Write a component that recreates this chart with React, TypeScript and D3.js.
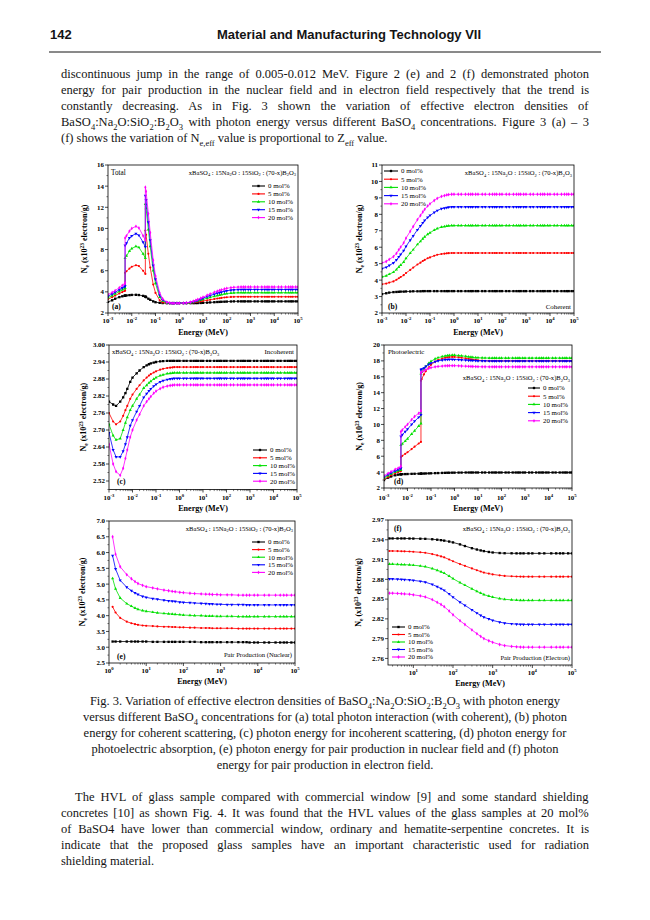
import React from 'react';
import * as d3 from 'd3';

const SERIF = '"Liberation Serif", "Times New Roman", Times, serif';
const SANS = '"Liberation Sans", Arial, Helvetica, sans-serif';
const INK = '#141414';

type Rich = [string, number][];

// ---------------- series meta ----------------
const molLabels = ['0 mol%', '5 mol%', '10 mol%', '15 mol%', '20 mol%'];
const molColors = ['#000000', '#ff0000', '#00e000', '#0000ff', '#ff00ff'];

// ---------------- energy grids (MeV) ----------------
const energyEdge = [
  0.001, 0.0015, 0.002, 0.003, 0.004, 0.005, 0.00525, 0.00525, 0.006, 0.008,
  0.01, 0.015, 0.02, 0.03, 0.0374, 0.0374, 0.04, 0.05, 0.06, 0.08,
  0.1, 0.15, 0.2, 0.3, 0.4, 0.5, 0.6, 0.8,
  1, 1.5, 2, 3, 4, 5, 6, 8,
  10, 15, 20, 30, 40, 50, 60, 80,
  100, 150, 200, 300, 400, 500, 600, 800,
  1000, 1500, 2000, 3000, 4000, 5000, 6000, 8000,
  10000, 15000, 20000, 30000, 40000, 50000, 60000, 80000,
  100000,
];
const energyFine = [
  0.001, 0.0015, 0.002, 0.003, 0.004, 0.005, 0.006, 0.008,
  0.01, 0.015, 0.02, 0.03, 0.04, 0.05, 0.06, 0.08,
  0.1, 0.15, 0.2, 0.3, 0.4, 0.5, 0.6, 0.8,
  1, 1.5, 2, 3, 4, 5, 6, 8,
  10, 15, 20, 30, 40, 50, 60, 80,
  100, 150, 200, 300, 400, 500, 600, 800,
  1000, 1500, 2000, 3000, 4000, 5000, 6000, 8000,
  10000, 15000, 20000, 30000, 40000, 50000, 60000, 80000,
  100000,
];
const energyPairN = [
  1.25, 1.5, 2, 3, 4, 5, 6, 8,
  10, 15, 20, 30, 40, 50, 60, 80,
  100, 150, 200, 300, 400, 500, 600, 800,
  1000, 1500, 2000, 3000, 4000, 5000, 6000, 8000,
  10000, 15000, 20000, 30000, 40000, 50000, 60000, 80000,
  100000,
];
const energyPairE = [
  2.5, 3, 4, 5, 6, 8,
  10, 15, 20, 30, 40, 50, 60, 80,
  100, 150, 200, 300, 400, 500, 600, 800,
  1000, 1500, 2000, 3000, 4000, 5000, 6000, 8000,
  10000, 15000, 20000, 30000, 40000, 50000, 60000, 80000,
  100000,
];

// ---------------- (a) Total ----------------
const totalMol0 = [
  3.05, 3.2, 3.35, 3.5, 3.58, 3.63, 3.64, 3.64, 3.66, 3.69,
  3.71, 3.72, 3.7, 3.62, 3.55, 3.55, 3.5, 3.35, 3.25, 3.1,
  3.02, 2.96, 2.94, 2.93, 2.93, 2.93, 2.93, 2.93,
  2.93, 2.93, 2.93, 2.93, 2.93, 2.94, 2.94, 2.95,
  2.96, 2.98, 3.0, 3.02, 3.04, 3.05, 3.06, 3.07,
  3.08, 3.09, 3.1, 3.1, 3.1, 3.1, 3.1, 3.1,
  3.1, 3.1, 3.1, 3.1, 3.1, 3.1, 3.1, 3.1,
  3.1, 3.1, 3.1, 3.1, 3.1, 3.1, 3.1, 3.1,
  3.1,
];
const totalMol5 = [
  3.3, 3.5, 3.65, 3.85, 3.98, 4.08, 4.12, 5.8, 5.95, 6.2,
  6.38, 6.52, 6.45, 6.0, 5.7, 9.8, 9.4, 7.6, 6.3, 4.7,
  3.9, 3.2, 3.0, 2.94, 2.93, 2.93, 2.93, 2.93,
  2.93, 2.93, 2.94, 2.97, 3.0, 3.03, 3.06, 3.1,
  3.14, 3.2, 3.25, 3.32, 3.37, 3.4, 3.43, 3.47,
  3.49, 3.52, 3.53, 3.54, 3.54, 3.54, 3.54, 3.54,
  3.54, 3.54, 3.54, 3.54, 3.54, 3.54, 3.54, 3.54,
  3.54, 3.54, 3.54, 3.54, 3.54, 3.54, 3.54, 3.54,
  3.54,
];
const totalMol10 = [
  3.45, 3.65, 3.82, 4.05, 4.2, 4.3, 4.35, 7.2, 7.4, 7.85,
  8.1, 8.3, 8.2, 7.6, 7.2, 12.3, 11.9, 9.9, 8.3, 6.0,
  4.8, 3.5, 3.15, 2.97, 2.94, 2.93, 2.93, 2.93,
  2.93, 2.93, 2.95, 2.99, 3.05, 3.1, 3.14, 3.22,
  3.28, 3.4, 3.48, 3.58, 3.65, 3.7, 3.74, 3.8,
  3.84, 3.88, 3.9, 3.92, 3.92, 3.92, 3.92, 3.92,
  3.92, 3.92, 3.92, 3.92, 3.92, 3.92, 3.92, 3.92,
  3.92, 3.92, 3.92, 3.92, 3.92, 3.92, 3.92, 3.92,
  3.92,
];
const totalMol15 = [
  3.6, 3.8, 3.97, 4.2, 4.38, 4.5, 4.55, 8.4, 8.6, 9.1,
  9.3, 9.5, 9.35, 8.7, 8.25, 13.1, 12.7, 10.6, 8.9, 6.5,
  5.2, 3.7, 3.25, 3.0, 2.95, 2.93, 2.93, 2.93,
  2.93, 2.94, 2.96, 3.01, 3.08, 3.15, 3.21, 3.31,
  3.4, 3.55, 3.65, 3.78, 3.87, 3.93, 3.98, 4.05,
  4.1, 4.16, 4.19, 4.21, 4.22, 4.22, 4.22, 4.22,
  4.22, 4.22, 4.22, 4.22, 4.22, 4.22, 4.22, 4.22,
  4.22, 4.22, 4.22, 4.22, 4.22, 4.22, 4.22, 4.22,
  4.22,
];
const totalMol20 = [
  3.75, 3.95, 4.12, 4.4, 4.6, 4.75, 4.85, 9.1, 9.3, 9.75,
  10.0, 10.2, 10.05, 9.3, 8.9, 13.9, 13.5, 11.4, 9.6, 7.0,
  5.5, 3.9, 3.35, 3.02, 2.96, 2.93, 2.93, 2.93,
  2.93, 2.94, 2.97, 3.03, 3.12, 3.2, 3.28, 3.4,
  3.5, 3.68, 3.8, 3.96, 4.06, 4.13, 4.19, 4.27,
  4.33, 4.4, 4.43, 4.45, 4.46, 4.46, 4.46, 4.46,
  4.46, 4.46, 4.46, 4.46, 4.46, 4.46, 4.46, 4.46,
  4.46, 4.46, 4.46, 4.46, 4.46, 4.46, 4.46, 4.46,
  4.46,
];
const totalTicks = [2, 4, 6, 8, 10, 12, 14, 16];

// ---------------- (b) Coherent ----------------
const cohMol0 = [
  3.15, 3.2, 3.24, 3.27, 3.28, 3.29, 3.3, 3.3,
  3.31, 3.31, 3.32, 3.32, 3.32, 3.33, 3.33, 3.33,
  3.33, 3.33, 3.33, 3.33, 3.33, 3.33, 3.33, 3.33,
  3.33, 3.33, 3.33, 3.33, 3.33, 3.33, 3.33, 3.33,
  3.33, 3.33, 3.33, 3.33, 3.33, 3.33, 3.33, 3.33,
  3.33, 3.33, 3.33, 3.33, 3.33, 3.33, 3.33, 3.33,
  3.33, 3.33, 3.33, 3.33, 3.33, 3.33, 3.33, 3.33,
  3.33, 3.33, 3.33, 3.33, 3.33, 3.33, 3.33, 3.33,
  3.33,
];
const cohMol5 = [
  3.75, 3.79, 3.85, 3.92, 4.02, 4.11, 4.19, 4.3,
  4.43, 4.62, 4.76, 4.95, 5.06, 5.16, 5.23, 5.33,
  5.38, 5.48, 5.54, 5.59, 5.61, 5.63, 5.64, 5.65,
  5.65, 5.65, 5.65, 5.65, 5.65, 5.65, 5.65, 5.65,
  5.65, 5.65, 5.65, 5.65, 5.65, 5.65, 5.65, 5.65,
  5.65, 5.65, 5.65, 5.65, 5.65, 5.65, 5.65, 5.65,
  5.65, 5.65, 5.65, 5.65, 5.65, 5.65, 5.65, 5.65,
  5.65, 5.65, 5.65, 5.65, 5.65, 5.65, 5.65, 5.65,
  5.65,
];
const cohMol10 = [
  4.2, 4.26, 4.36, 4.48, 4.64, 4.79, 4.92, 5.1,
  5.32, 5.64, 5.85, 6.17, 6.35, 6.51, 6.63, 6.79,
  6.88, 7.04, 7.13, 7.23, 7.26, 7.29, 7.3, 7.32,
  7.32, 7.32, 7.32, 7.32, 7.32, 7.32, 7.32, 7.32,
  7.32, 7.32, 7.32, 7.32, 7.32, 7.32, 7.32, 7.32,
  7.32, 7.32, 7.32, 7.32, 7.32, 7.32, 7.32, 7.32,
  7.32, 7.32, 7.32, 7.32, 7.32, 7.32, 7.32, 7.32,
  7.32, 7.32, 7.32, 7.32, 7.32, 7.32, 7.32, 7.32,
  7.32,
];
const cohMol15 = [
  4.7, 4.78, 4.89, 5.04, 5.23, 5.41, 5.56, 5.79,
  6.05, 6.43, 6.69, 7.06, 7.29, 7.48, 7.63, 7.81,
  7.93, 8.11, 8.23, 8.34, 8.38, 8.41, 8.43, 8.45,
  8.45, 8.45, 8.45, 8.45, 8.45, 8.45, 8.45, 8.45,
  8.45, 8.45, 8.45, 8.45, 8.45, 8.45, 8.45, 8.45,
  8.45, 8.45, 8.45, 8.45, 8.45, 8.45, 8.45, 8.45,
  8.45, 8.45, 8.45, 8.45, 8.45, 8.45, 8.45, 8.45,
  8.45, 8.45, 8.45, 8.45, 8.45, 8.45, 8.45, 8.45,
  8.45,
];
const cohMol20 = [
  5.05, 5.13, 5.26, 5.43, 5.63, 5.84, 6.01, 6.26,
  6.55, 6.97, 7.26, 7.68, 7.93, 8.14, 8.3, 8.51,
  8.64, 8.84, 8.97, 9.09, 9.14, 9.18, 9.2, 9.22,
  9.22, 9.22, 9.22, 9.22, 9.22, 9.22, 9.22, 9.22,
  9.22, 9.22, 9.22, 9.22, 9.22, 9.22, 9.22, 9.22,
  9.22, 9.22, 9.22, 9.22, 9.22, 9.22, 9.22, 9.22,
  9.22, 9.22, 9.22, 9.22, 9.22, 9.22, 9.22, 9.22,
  9.22, 9.22, 9.22, 9.22, 9.22, 9.22, 9.22, 9.22,
  9.22,
];
const cohTicks = [2, 3, 4, 5, 6, 7, 8, 9, 10, 11];

// ---------------- (c) Incoherent ----------------
const incMol0 = [
  2.8, 2.79, 2.785, 2.8, 2.815, 2.83, 2.845, 2.87,
  2.885, 2.9, 2.91, 2.922, 2.928, 2.932, 2.935, 2.938,
  2.94, 2.942, 2.943, 2.944, 2.944, 2.944, 2.944, 2.944,
  2.944, 2.944, 2.944, 2.944, 2.944, 2.944, 2.944, 2.944,
  2.944, 2.944, 2.944, 2.944, 2.944, 2.944, 2.944, 2.944,
  2.944, 2.944, 2.944, 2.944, 2.944, 2.944, 2.944, 2.944,
  2.944, 2.944, 2.944, 2.944, 2.944, 2.944, 2.944, 2.944,
  2.944, 2.944, 2.944, 2.944, 2.944, 2.944, 2.944, 2.944,
  2.944,
];
const incMol5 = [
  2.76, 2.73, 2.72, 2.73, 2.75, 2.77, 2.785, 2.81,
  2.825, 2.845, 2.858, 2.875, 2.885, 2.892, 2.897, 2.903,
  2.907, 2.913, 2.916, 2.919, 2.92, 2.921, 2.922, 2.922,
  2.922, 2.922, 2.922, 2.922, 2.922, 2.922, 2.922, 2.922,
  2.922, 2.922, 2.922, 2.922, 2.922, 2.922, 2.922, 2.922,
  2.922, 2.922, 2.922, 2.922, 2.922, 2.922, 2.922, 2.922,
  2.922, 2.922, 2.922, 2.922, 2.922, 2.922, 2.922, 2.922,
  2.922, 2.922, 2.922, 2.922, 2.922, 2.922, 2.922, 2.922,
  2.922,
];
const incMol10 = [
  2.72, 2.68, 2.665, 2.67, 2.7, 2.725, 2.745, 2.77,
  2.785, 2.81, 2.825, 2.848, 2.858, 2.866, 2.872, 2.88,
  2.885, 2.892, 2.895, 2.899, 2.9, 2.901, 2.902, 2.902,
  2.902, 2.902, 2.902, 2.902, 2.902, 2.902, 2.902, 2.902,
  2.902, 2.902, 2.902, 2.902, 2.902, 2.902, 2.902, 2.902,
  2.902, 2.902, 2.902, 2.902, 2.902, 2.902, 2.902, 2.902,
  2.902, 2.902, 2.902, 2.902, 2.902, 2.902, 2.902, 2.902,
  2.902, 2.902, 2.902, 2.902, 2.902, 2.902, 2.902, 2.902,
  2.902,
];
const incMol15 = [
  2.69, 2.63, 2.605, 2.605, 2.625, 2.65, 2.675, 2.715,
  2.735, 2.765, 2.785, 2.815, 2.828, 2.838, 2.845, 2.855,
  2.861, 2.87, 2.874, 2.878, 2.88, 2.881, 2.882, 2.882,
  2.882, 2.882, 2.882, 2.882, 2.882, 2.882, 2.882, 2.882,
  2.882, 2.882, 2.882, 2.882, 2.882, 2.882, 2.882, 2.882,
  2.882, 2.882, 2.882, 2.882, 2.882, 2.882, 2.882, 2.882,
  2.882, 2.882, 2.882, 2.882, 2.882, 2.882, 2.882, 2.882,
  2.882, 2.882, 2.882, 2.882, 2.882, 2.882, 2.882, 2.882,
  2.882,
];
const incMol20 = [
  2.65, 2.58, 2.553, 2.54, 2.565, 2.6, 2.63, 2.675,
  2.7, 2.735, 2.755, 2.785, 2.8, 2.81, 2.818, 2.83,
  2.837, 2.846, 2.851, 2.855, 2.857, 2.858, 2.859, 2.859,
  2.859, 2.859, 2.859, 2.859, 2.859, 2.859, 2.859, 2.859,
  2.859, 2.859, 2.859, 2.859, 2.859, 2.859, 2.859, 2.859,
  2.859, 2.859, 2.859, 2.859, 2.859, 2.859, 2.859, 2.859,
  2.859, 2.859, 2.859, 2.859, 2.859, 2.859, 2.859, 2.859,
  2.859, 2.859, 2.859, 2.859, 2.859, 2.859, 2.859, 2.859,
  2.859,
];
const incTicks = [2.52, 2.58, 2.64, 2.7, 2.76, 2.82, 2.88, 2.94, 3.0];

// ---------------- (d) Photoelectric ----------------
const photoMol0 = [
  3.0, 3.3, 3.45, 3.6, 3.68, 3.72, 3.73, 3.73, 3.74, 3.75,
  3.76, 3.78, 3.79, 3.8, 3.81, 3.81, 3.81, 3.82, 3.83, 3.84,
  3.85, 3.87, 3.88, 3.9, 3.91, 3.92, 3.92, 3.93,
  3.93, 3.94, 3.94, 3.95, 3.95, 3.95, 3.95, 3.95,
  3.95, 3.95, 3.95, 3.95, 3.95, 3.95, 3.95, 3.95,
  3.95, 3.95, 3.95, 3.95, 3.95, 3.95, 3.95, 3.95,
  3.95, 3.95, 3.95, 3.95, 3.95, 3.95, 3.95, 3.95,
  3.95, 3.95, 3.95, 3.95, 3.95, 3.95, 3.95, 3.95,
  3.95,
];
const photoMol5 = [
  3.1, 3.4, 3.6, 3.85, 4.0, 4.1, 4.15, 5.9, 6.05, 6.3,
  6.5, 6.9, 7.2, 7.6, 7.8, 15.5, 15.7, 16.3, 16.7, 17.2,
  17.5, 17.9, 18.1, 18.3, 18.4, 18.45, 18.48, 18.5,
  18.5, 18.45, 18.4, 18.32, 18.26, 18.2, 18.16, 18.12,
  18.08, 18.04, 18.02, 18.0, 18.0, 18.0, 18.0, 18.0,
  18.0, 18.0, 18.0, 18.0, 18.0, 18.0, 18.0, 18.0,
  18.0, 18.0, 18.0, 18.0, 18.0, 18.0, 18.0, 18.0,
  18.0, 18.0, 18.0, 18.0, 18.0, 18.0, 18.0, 18.0,
  18.0,
];
const photoMol10 = [
  3.25, 3.55, 3.75, 4.0, 4.15, 4.25, 4.3, 7.4, 7.55, 7.9,
  8.2, 8.8, 9.2, 9.8, 10.1, 16.4, 16.6, 17.0, 17.3, 17.7,
  17.95, 18.25, 18.4, 18.55, 18.62, 18.67, 18.7, 18.72,
  18.72, 18.68, 18.64, 18.58, 18.52, 18.48, 18.45, 18.42,
  18.4, 18.38, 18.37, 18.36, 18.36, 18.36, 18.36, 18.36,
  18.36, 18.36, 18.36, 18.36, 18.36, 18.36, 18.36, 18.36,
  18.36, 18.36, 18.36, 18.36, 18.36, 18.36, 18.36, 18.36,
  18.36, 18.36, 18.36, 18.36, 18.36, 18.36, 18.36, 18.36,
  18.36,
];
const photoMol15 = [
  3.4, 3.7, 3.9, 4.15, 4.3, 4.45, 4.5, 8.5, 8.7, 9.1,
  9.4, 10.0, 10.4, 10.9, 11.2, 16.9, 16.95, 17.1, 17.3, 17.55,
  17.7, 17.9, 18.0, 18.1, 18.15, 18.17, 18.18, 18.18,
  18.17, 18.15, 18.12, 18.1, 18.07, 18.05, 18.04, 18.02,
  18.0, 18.0, 17.99, 17.98, 17.98, 17.98, 17.98, 17.98,
  17.98, 17.98, 17.98, 17.98, 17.98, 17.98, 17.98, 17.98,
  17.98, 17.98, 17.98, 17.98, 17.98, 17.98, 17.98, 17.98,
  17.98, 17.98, 17.98, 17.98, 17.98, 17.98, 17.98, 17.98,
  17.98,
];
const photoMol20 = [
  3.55, 3.85, 4.05, 4.35, 4.5, 4.65, 4.75, 9.1, 9.3, 9.7,
  10.0, 10.6, 11.0, 11.4, 11.7, 16.5, 16.6, 16.75, 16.9, 17.05,
  17.15, 17.25, 17.3, 17.35, 17.38, 17.39, 17.4, 17.4,
  17.4, 17.38, 17.36, 17.33, 17.31, 17.3, 17.29, 17.28,
  17.27, 17.26, 17.26, 17.25, 17.25, 17.25, 17.25, 17.25,
  17.25, 17.25, 17.25, 17.25, 17.25, 17.25, 17.25, 17.25,
  17.25, 17.25, 17.25, 17.25, 17.25, 17.25, 17.25, 17.25,
  17.25, 17.25, 17.25, 17.25, 17.25, 17.25, 17.25, 17.25,
  17.25,
];
const photoTicks = [2, 4, 6, 8, 10, 12, 14, 16, 18, 20];

// ---------------- (e) Pair production (nuclear) ----------------
const pairNMol0 = [
  3.18, 3.18, 3.18, 3.18, 3.18, 3.18, 3.18, 3.18,
  3.18, 3.17, 3.17, 3.17, 3.17, 3.17, 3.17, 3.17,
  3.17, 3.17, 3.17, 3.16, 3.16, 3.16, 3.16, 3.16,
  3.16, 3.16, 3.16, 3.16, 3.16, 3.16, 3.15, 3.15,
  3.15, 3.15, 3.15, 3.15, 3.15, 3.15, 3.15, 3.15,
  3.15,
];
const pairNMol5 = [
  4.28, 4.1, 3.93, 3.81, 3.76, 3.73, 3.71, 3.69,
  3.68, 3.67, 3.66, 3.65, 3.65, 3.64, 3.64, 3.63,
  3.63, 3.62, 3.62, 3.61, 3.61, 3.61, 3.6, 3.6,
  3.6, 3.6, 3.6, 3.59, 3.59, 3.59, 3.59, 3.59,
  3.59, 3.59, 3.59, 3.59, 3.59, 3.59, 3.59, 3.59,
  3.59,
];
const pairNMol10 = [
  5.18, 4.85, 4.56, 4.38, 4.3, 4.24, 4.2, 4.16,
  4.14, 4.11, 4.09, 4.07, 4.06, 4.05, 4.04, 4.03,
  4.02, 4.01, 4.0, 4.0, 3.99, 3.99, 3.99, 3.98,
  3.98, 3.98, 3.98, 3.97, 3.97, 3.97, 3.97, 3.97,
  3.97, 3.97, 3.97, 3.97, 3.97, 3.97, 3.97, 3.97,
  3.97,
];
const pairNMol15 = [
  5.9, 5.48, 5.12, 4.9, 4.79, 4.72, 4.67, 4.61,
  4.58, 4.54, 4.52, 4.49, 4.47, 4.46, 4.45, 4.43,
  4.42, 4.41, 4.4, 4.39, 4.38, 4.37, 4.37, 4.36,
  4.36, 4.35, 4.35, 4.35, 4.35, 4.34, 4.34, 4.34,
  4.34, 4.34, 4.34, 4.34, 4.34, 4.34, 4.34, 4.34,
  4.34,
];
const pairNMol20 = [
  6.5, 5.95, 5.55, 5.3, 5.17, 5.08, 5.02, 4.96,
  4.92, 4.88, 4.85, 4.81, 4.79, 4.77, 4.76, 4.74,
  4.73, 4.71, 4.7, 4.69, 4.68, 4.68, 4.67, 4.67,
  4.66, 4.66, 4.66, 4.65, 4.65, 4.65, 4.65, 4.65,
  4.65, 4.65, 4.65, 4.65, 4.65, 4.65, 4.65, 4.65,
  4.65,
];
const pairNTicks = [2.5, 3.0, 3.5, 4.0, 4.5, 5.0, 5.5, 6.0, 6.5, 7.0];

// ---------------- (f) Pair production (electron) ----------------
const pairEMol0 = [
  2.942, 2.942, 2.942, 2.942, 2.942, 2.9419,
  2.9418, 2.9416, 2.9414, 2.9408, 2.9401, 2.9394, 2.9387, 2.9373,
  2.936, 2.933, 2.9305, 2.9272, 2.9252, 2.9238, 2.9228, 2.9215,
  2.9207, 2.9199, 2.9196, 2.9195, 2.9194, 2.9194, 2.9194, 2.9194,
  2.9194, 2.9194, 2.9194, 2.9194, 2.9194, 2.9194, 2.9194, 2.9194,
  2.9194,
];
const pairEMol5 = [
  2.923, 2.923, 2.9228, 2.9226, 2.9224, 2.9222,
  2.9218, 2.921, 2.9203, 2.9183, 2.9164, 2.9148, 2.9133, 2.9101,
  2.9074, 2.9031, 2.9004, 2.8965, 2.8938, 2.8918, 2.8902, 2.8887,
  2.8875, 2.886, 2.8852, 2.8846, 2.8843, 2.8841, 2.884, 2.884,
  2.884, 2.884, 2.884, 2.884, 2.884, 2.884, 2.884, 2.884,
  2.884,
];
const pairEMol10 = [
  2.903, 2.903, 2.9027, 2.9025, 2.9022, 2.9019,
  2.9014, 2.9003, 2.8992, 2.8964, 2.8937, 2.8915, 2.8893, 2.8849,
  2.881, 2.875, 2.8711, 2.8656, 2.8618, 2.859, 2.8568, 2.8546,
  2.853, 2.8508, 2.8497, 2.8488, 2.8484, 2.8482, 2.848, 2.848,
  2.848, 2.848, 2.848, 2.848, 2.848, 2.848, 2.848, 2.848,
  2.848,
];
const pairEMol15 = [
  2.8805, 2.8805, 2.8802, 2.8798, 2.8795, 2.8791,
  2.8784, 2.877, 2.8757, 2.8722, 2.8688, 2.866, 2.8633, 2.8577,
  2.8529, 2.8453, 2.8405, 2.8336, 2.8288, 2.8253, 2.8225, 2.8198,
  2.8177, 2.815, 2.8136, 2.8125, 2.812, 2.8117, 2.8115, 2.8115,
  2.8115, 2.8115, 2.8115, 2.8115, 2.8115, 2.8115, 2.8115, 2.8115,
  2.8115,
];
const pairEMol20 = [
  2.859, 2.859, 2.8586, 2.8582, 2.8578, 2.8574,
  2.8565, 2.8549, 2.8533, 2.8492, 2.8451, 2.8418, 2.8385, 2.8319,
  2.8262, 2.8172, 2.8114, 2.8032, 2.7975, 2.7934, 2.7901, 2.7868,
  2.7844, 2.7811, 2.7795, 2.7782, 2.7776, 2.7772, 2.777, 2.777,
  2.777, 2.777, 2.777, 2.777, 2.777, 2.777, 2.777, 2.777,
  2.777,
];
const pairETicks = [2.76, 2.79, 2.82, 2.85, 2.88, 2.91, 2.94, 2.97];

// ---------------- page text ----------------
const headerNumber = '142';
const headerTitle = 'Material and Manufacturing Technology VII';

const topParagraph: Rich[] = [
  [['discontinuous jump in the range of 0.005-0.012 MeV. Figure 2 (e) and 2 (f) demonstrated photon', 0]],
  [['energy for pair production in the nuclear field and in electron field respectively that the trend is', 0]],
  [['constantly decreasing. As in Fig. 3 shown the variation of effective electron densities of', 0]],
  [['BaSO', 0], ['4', 1], [':Na', 0], ['2', 1], ['O:SiO', 0], ['2', 1], [':B', 0], ['2', 1], ['O', 0], ['3', 1],
   [' with photon energy versus different BaSO', 0], ['4', 1], [' concentrations. Figure 3 (a) \u2013 3', 0]],
  [['(f) shows the variation of N', 0], ['e,eff', 1], [' value is proportional to Z', 0], ['eff', 1], [' value.', 0]],
];
const captionLines: Rich[] = [
  [['Fig. 3. Variation of effective electron densities of BaSO', 0], ['4', 1], [':Na', 0], ['2', 1], ['O:SiO', 0], ['2', 1],
   [':B', 0], ['2', 1], ['O', 0], ['3', 1], [' with photon energy', 0]],
  [['versus different BaSO', 0], ['4', 1], [' concentrations for (a) total photon interaction (with coherent), (b) photon', 0]],
  [['energy for coherent scattering, (c) photon energy for incoherent scattering, (d) photon energy for', 0]],
  [['photoelectric absorption, (e) photon energy for pair production in nuclear field and (f) photon', 0]],
  [['energy for pair production in electron field.', 0]],
];
const bottomParagraph: Rich[] = [
  [['The HVL of glass sample compared with commercial window [9] and some standard shielding', 0]],
  [['concretes [10] as shown Fig. 4. It was found that the HVL values of the glass samples at 20 mol%', 0]],
  [['of BaSO4 have lower than commercial window, ordinary and hematite-serpentine concretes. It is', 0]],
  [['indicate that the proposed glass samples have an important characteristic used for radiation', 0]],
  [['shielding material.', 0]],
];
const formula: Rich = [
  ['xBaSO', 0], ['4', 1], [' : 15Na', 0], ['2', 1], ['O : 15SiO', 0], ['2', 1], [' : (70-x)B', 0], ['2', 1], ['O', 0], ['3', 1],
];
const yTitle: Rich = [['N', 0], ['e', 1], [' (x10', 0], ['23', -1], [' electron/g)', 0]];

// ---------------- helpers ----------------
const SUB_SCALE = 0.68;

function rich(parts: Rich, size: number) {
  let cur = 0;
  return parts.map(([t, k], i) => {
    const target = k === 1 ? size * 0.28 : k === -1 ? -size * 0.4 : 0;
    const dy = target - cur;
    cur = target;
    return (
      <tspan key={i} dy={dy} fontSize={k ? size * SUB_SCALE : size}>
        {t}
      </tspan>
    );
  });
}

let measureCtx: CanvasRenderingContext2D | null = null;
function measureRich(parts: Rich, size: number): number {
  if (typeof document === 'undefined') return 0;
  if (!measureCtx) measureCtx = document.createElement('canvas').getContext('2d');
  if (!measureCtx) return 0;
  let w = 0;
  for (const [t, k] of parts) {
    const fs = k ? size * SUB_SCALE : size;
    measureCtx.font = `${fs}px "Liberation Serif"`;
    w += measureCtx.measureText(t).width;
  }
  return w;
}
function wordSpacingFor(parts: Rich, size: number, target: number): number {
  const w = measureRich(parts, size);
  const spaces = parts.reduce((n, [t]) => n + (t.match(/ /g) || []).length, 0);
  if (!w || !spaces) return 0;
  return (target - w) / spaces;
}

const SYMS = [d3.symbolSquare, d3.symbolCircle, d3.symbolTriangle, d3.symbolTriangle, d3.symbolDiamond];
const SYM_SIZE = [5.5, 3.6, 4.2, 4.2, 4.2];
const symPath = SYMS.map((t, i) => d3.symbol().type(t).size(SYM_SIZE[i])() as string);

function Marker({ i, x, y }: { i: number; x: number; y: number }) {
  return (
    <path
      d={symPath[i]}
      transform={`translate(${x.toFixed(2)},${y.toFixed(2)})${i === 3 ? ' rotate(180)' : ''}`}
      fill={molColors[i]}
      stroke="none"
    />
  );
}

interface Note {
  x: number;
  y: number;
  anchor?: 'start' | 'end' | 'middle';
  parts: Rich;
  size: number;
  bold?: boolean;
}
interface Spec {
  id: string;
  l: number;
  r: number;
  t: number;
  b: number;
  xDomain: [number, number];
  xExps: number[];
  yDomain: [number, number];
  yTicks: number[];
  yDigits: number;
  energies: number[];
  series: number[][];
  yTitleX: number;
  xLabelY: number;
  xTitleY: number;
  legend: { x0: number; x1: number; tx: number; ys: number[] };
  notes: Note[];
}

function Panel({ s }: { s: Spec }) {
  const x = d3.scaleLog().domain(s.xDomain).range([s.l, s.r]);
  const y = d3.scaleLinear().domain(s.yDomain).range([s.b, s.t]);
  const [d0, d1] = s.xDomain;
  const xMinor: number[] = [];
  for (let k = Math.floor(Math.log10(d0)); k <= Math.ceil(Math.log10(d1)); k++) {
    for (let m = 2; m <= 9; m++) {
      const v = m * Math.pow(10, k);
      if (v >= d0 && v <= d1) xMinor.push(v);
    }
  }
  const step = s.yTicks[1] - s.yTicks[0];
  const yMinor: number[] = [];
  for (let i = -1; i < s.yTicks.length; i++) {
    const v = s.yTicks[0] + (i + 0.5) * step;
    if (v >= s.yDomain[0] - 1e-9 && v <= s.yDomain[1] + 1e-9) yMinor.push(v);
  }
  const clip = `clip-${s.id}`;
  const tickFont = 6.9;
  return (
    <g>
      <defs>
        <clipPath id={clip}>
          <rect x={s.l} y={s.t} width={s.r - s.l} height={s.b - s.t} />
        </clipPath>
      </defs>
      <g clipPath={`url(#${clip})`}>
        {s.series.map((vals, si) => {
          const n = Math.min(vals.length, s.energies.length);
          const pts: [number, number][] = [];
          for (let i = 0; i < n; i++) pts.push([s.energies[i], vals[i]]);
          const path = d3
            .line<[number, number]>()
            .x((d) => x(d[0]))
            .y((d) => y(d[1]))(pts) as string;
          return (
            <g key={si}>
              <path d={path} fill="none" stroke={molColors[si]} strokeWidth={0.8} />
              {pts.map((p, k) => (
                <Marker key={k} i={si} x={x(p[0])} y={y(p[1])} />
              ))}
            </g>
          );
        })}
      </g>
      <rect x={s.l} y={s.t} width={s.r - s.l} height={s.b - s.t} fill="none" stroke="#000" strokeWidth={0.8} />
      {s.xExps.map((e) => {
        const px = x(Math.pow(10, e));
        return (
          <g key={`xt${e}`}>
            <line x1={px} x2={px} y1={s.b} y2={s.b + 3} stroke="#000" strokeWidth={0.7} />
            <text
              x={px}
              y={s.xLabelY}
              textAnchor="middle"
              fontFamily={SERIF}
              fontWeight="bold"
              fontSize={tickFont}
              fill="#000"
            >
              {rich([['10', 0], [String(e), -1]], tickFont)}
            </text>
          </g>
        );
      })}
      {xMinor.map((v, k) => (
        <line key={`xm${k}`} x1={x(v)} x2={x(v)} y1={s.b} y2={s.b + 1.6} stroke="#000" strokeWidth={0.5} />
      ))}
      {s.yTicks.map((v) => (
        <g key={`yt${v}`}>
          <line x1={s.l - 3} x2={s.l} y1={y(v)} y2={y(v)} stroke="#000" strokeWidth={0.7} />
          <text
            x={s.l - 4}
            y={y(v) + 2.4}
            textAnchor="end"
            fontFamily={SERIF}
            fontWeight="bold"
            fontSize={tickFont}
            fill="#000"
          >
            {v.toFixed(s.yDigits)}
          </text>
        </g>
      ))}
      {yMinor.map((v, k) => (
        <line key={`ym${k}`} x1={s.l - 1.6} x2={s.l} y1={y(v)} y2={y(v)} stroke="#000" strokeWidth={0.5} />
      ))}
      <text
        x={(s.l + s.r) / 2}
        y={s.xTitleY}
        textAnchor="middle"
        fontFamily={SERIF}
        fontWeight="bold"
        fontSize={8.1}
        fill="#000"
      >
        Energy (MeV)
      </text>
      <text
        transform={`translate(${s.yTitleX},${(s.t + s.b) / 2}) rotate(-90)`}
        textAnchor="middle"
        fontFamily={SERIF}
        fontWeight="bold"
        fontSize={8}
        fill="#000"
      >
        {rich(yTitle, 8)}
      </text>
      {molLabels.map((lab, i) => {
        const ly = s.legend.ys[i];
        return (
          <g key={`lg${i}`}>
            <line x1={s.legend.x0} x2={s.legend.x1} y1={ly} y2={ly} stroke={molColors[i]} strokeWidth={1.1} />
            <Marker i={i} x={(s.legend.x0 + s.legend.x1) / 2} y={ly} />
            <text x={s.legend.tx} y={ly + 2.3} fontFamily={SERIF} fontSize={6.9} fill="#000">
              {lab}
            </text>
          </g>
        );
      })}
      {s.notes.map((n, k) => (
        <text
          key={`n${k}`}
          x={n.x}
          y={n.y}
          textAnchor={n.anchor || 'start'}
          fontFamily={SERIF}
          fontWeight={n.bold ? 'bold' : 'normal'}
          fontSize={n.size}
          fill="#000"
        >
          {rich(n.parts, n.size)}
        </text>
      ))}
    </g>
  );
}

const FULL: [number, number] = [1e-3, 1e5];
const FULL_EXPS = [-3, -2, -1, 0, 1, 2, 3, 4, 5];

function legendRows(y0: number, dy: number) {
  return [0, 1, 2, 3, 4].map((i) => y0 + i * dy);
}

function JustifiedLine({ parts, x, y, width, size, justify }: {
  parts: Rich; x: number; y: number; width: number; size: number; justify: boolean;
}) {
  const ws = justify ? wordSpacingFor(parts, size, width) : 0;
  return (
    <text x={x} y={y} fontFamily={SERIF} fontSize={size} fill={INK} style={{ wordSpacing: `${ws.toFixed(3)}px` }}>
      {rich(parts, size)}
    </text>
  );
}

const FS = 6.6;

export default function App() {
  const specs: Spec[] = [
    {
      id: 'a', l: 108, r: 298, t: 165, b: 313,
      xDomain: FULL, xExps: FULL_EXPS,
      yDomain: [2, 16], yTicks: totalTicks, yDigits: 0,
      energies: energyEdge, series: [totalMol0, totalMol5, totalMol10, totalMol15, totalMol20],
      yTitleX: 87, xLabelY: 323, xTitleY: 335,
      legend: { x0: 252, x1: 265, tx: 268, ys: legendRows(186, 7.9) },
      notes: [
        { x: 111, y: 174.5, parts: [['Total', 0]], size: 7.2 },
        { x: 296, y: 174.5, anchor: 'end', parts: formula, size: FS },
        { x: 112, y: 309, parts: [['(a)', 0]], size: 7.6, bold: true },
      ],
    },
    {
      id: 'b', l: 382, r: 574, t: 165, b: 313,
      xDomain: FULL, xExps: FULL_EXPS,
      yDomain: [2, 11], yTicks: cohTicks, yDigits: 0,
      energies: energyFine, series: [cohMol0, cohMol5, cohMol10, cohMol15, cohMol20],
      yTitleX: 362, xLabelY: 323, xTitleY: 335,
      legend: { x0: 384, x1: 398, tx: 401, ys: legendRows(171, 8.2) },
      notes: [
        { x: 572, y: 175, anchor: 'end', parts: formula, size: FS },
        { x: 571, y: 309, anchor: 'end', parts: [['Coherent', 0]], size: 6.9 },
        { x: 388, y: 309, parts: [['(b)', 0]], size: 7.6, bold: true },
      ],
    },
    {
      id: 'c', l: 109, r: 297, t: 345, b: 489.5,
      xDomain: FULL, xExps: FULL_EXPS,
      yDomain: [2.49, 3.0], yTicks: incTicks, yDigits: 2,
      energies: energyFine, series: [incMol0, incMol5, incMol10, incMol15, incMol20],
      yTitleX: 86, xLabelY: 500, xTitleY: 511,
      legend: { x0: 253, x1: 267, tx: 270, ys: legendRows(450, 7.8) },
      notes: [
        { x: 112, y: 354, parts: formula, size: FS },
        { x: 294, y: 353.5, anchor: 'end', parts: [['Incoherent', 0]], size: 6.9 },
        { x: 117, y: 484, parts: [['(c)', 0]], size: 7.6, bold: true },
      ],
    },
    {
      id: 'd', l: 384, r: 572, t: 345, b: 488,
      xDomain: FULL, xExps: FULL_EXPS,
      yDomain: [2, 20], yTicks: photoTicks, yDigits: 0,
      energies: energyEdge, series: [photoMol0, photoMol5, photoMol10, photoMol15, photoMol20],
      yTitleX: 362, xLabelY: 500, xTitleY: 511,
      legend: { x0: 528, x1: 540, tx: 543, ys: legendRows(388, 8.2) },
      notes: [
        { x: 388, y: 354, parts: [['Photoelectric', 0]], size: 6.9 },
        { x: 570, y: 380, anchor: 'end', parts: formula, size: FS },
        { x: 394, y: 484, parts: [['(d)', 0]], size: 7.6, bold: true },
      ],
    },
    {
      id: 'e', l: 109, r: 295, t: 521, b: 663,
      xDomain: [1, 1e5], xExps: [0, 1, 2, 3, 4, 5],
      yDomain: [2.5, 7.0], yTicks: pairNTicks, yDigits: 1,
      energies: energyPairN, series: [pairNMol0, pairNMol5, pairNMol10, pairNMol15, pairNMol20],
      yTitleX: 85, xLabelY: 673, xTitleY: 684,
      legend: { x0: 252, x1: 265, tx: 268, ys: legendRows(542, 7.6) },
      notes: [
        { x: 293, y: 530.5, anchor: 'end', parts: formula, size: FS },
        { x: 292, y: 656.5, anchor: 'end', parts: [['Pair Production (Nuclear)', 0]], size: 6.6 },
        { x: 117, y: 658.5, parts: [['(e)', 0]], size: 7.6, bold: true },
      ],
    },
    {
      id: 'f', l: 388, r: 572, t: 520, b: 665,
      xDomain: [2.3, 1e5], xExps: [1, 2, 3, 4, 5],
      yDomain: [2.75, 2.97], yTicks: pairETicks, yDigits: 2,
      energies: energyPairE, series: [pairEMol0, pairEMol5, pairEMol10, pairEMol15, pairEMol20],
      yTitleX: 361, xLabelY: 675, xTitleY: 686,
      legend: { x0: 392, x1: 405, tx: 408, ys: legendRows(627, 7.5) },
      notes: [
        { x: 394, y: 531, parts: [['(f)', 0]], size: 7.6, bold: true },
        { x: 570, y: 531, anchor: 'end', parts: formula, size: FS },
        { x: 570, y: 659.5, anchor: 'end', parts: [['Pair Production (Electron)', 0]], size: 6.6 },
      ],
    },
  ];

  const textL = 61;
  const textR = 589;
  const bodySize = 12.5;

  return (
    <svg
      width={650}
      height={920}
      viewBox="0 0 650 920"
      style={{ position: 'absolute', left: 0, top: 0, background: '#fff' }}
    >
      <rect x={0} y={0} width={650} height={920} fill="#fff" />
      <text x={50} y={39} fontFamily={SANS} fontWeight="bold" fontSize={13} fill={INK}>
        {headerNumber}
      </text>
      <text x={349} y={39} textAnchor="middle" fontFamily={SANS} fontWeight="bold" fontSize={13} fill={INK}>
        {headerTitle}
      </text>
      <line x1={49} x2={601} y1={52} y2={52} stroke={INK} strokeWidth={1} />

      {topParagraph.map((parts, i) => (
        <JustifiedLine
          key={`tp${i}`}
          parts={parts}
          x={textL}
          y={78 + i * 16}
          width={textR - textL}
          size={bodySize}
          justify={i < topParagraph.length - 1}
        />
      ))}

      {specs.map((s) => (
        <Panel key={s.id} s={s} />
      ))}

      {captionLines.map((parts, i) => (
        <text
          key={`cp${i}`}
          x={325}
          y={705 + i * 16}
          textAnchor="middle"
          fontFamily={SERIF}
          fontSize={bodySize}
          fill={INK}
        >
          {rich(parts, bodySize)}
        </text>
      ))}

      {bottomParagraph.map((parts, i) => {
        const x0 = i === 0 ? textL + 14 : textL;
        return (
          <JustifiedLine
            key={`bp${i}`}
            parts={parts}
            x={x0}
            y={801 + i * 16}
            width={textR - x0}
            size={bodySize}
            justify={i < bottomParagraph.length - 1}
          />
        );
      })}
    </svg>
  );
}
